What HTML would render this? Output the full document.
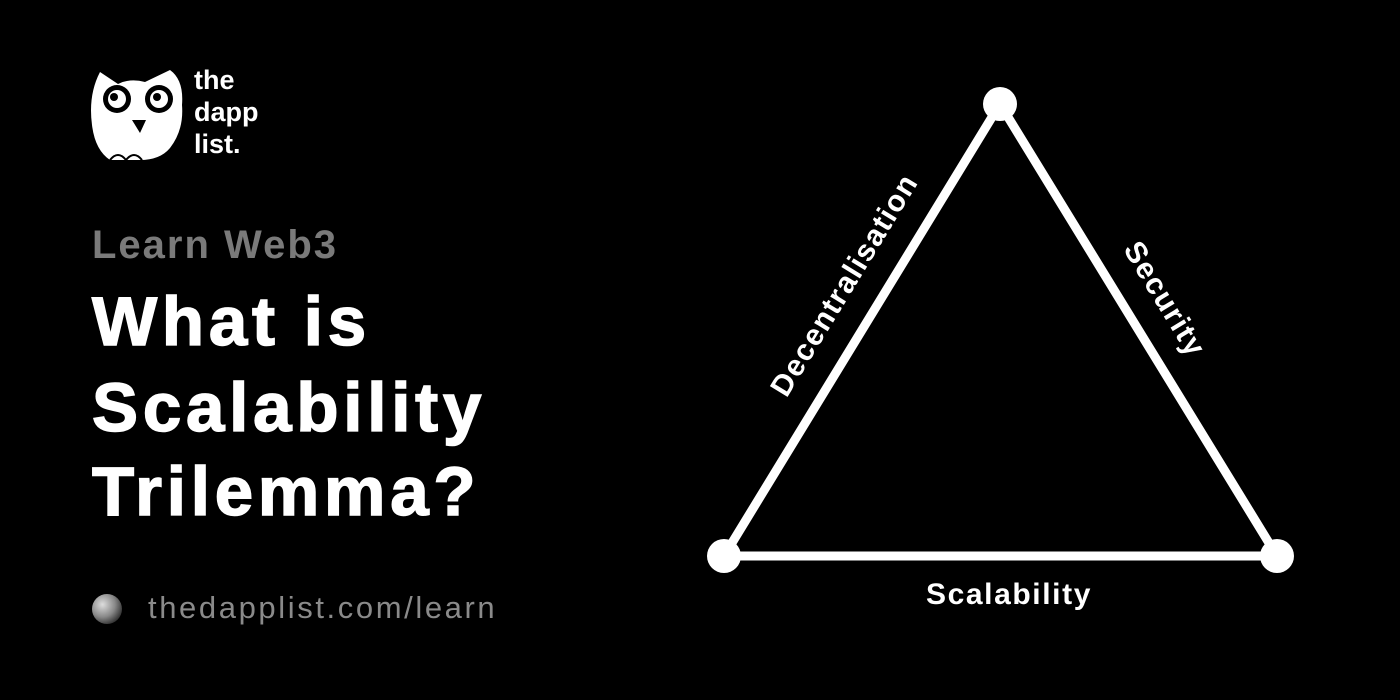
<!DOCTYPE html>
<html><head><meta charset="utf-8"><style>
html,body{margin:0;padding:0;background:#000;}
body{width:1400px;height:700px;position:relative;overflow:hidden;font-family:"Liberation Sans",sans-serif;}
.t{position:absolute;white-space:nowrap;}
.big{color:#fff;font-weight:bold;font-size:69px;letter-spacing:4.8px;left:92px;-webkit-text-stroke:1.5px #fff;}
</style></head><body>
<svg width="1400" height="700" style="position:absolute;left:0;top:0">
  <g fill="#fff">
    <path d="M100 72 L118 84 Q130 78 145 82 L170 70 Q184 80 182 105 Q184 130 170 148 Q160 160 140 160 L110 160 Q95 150 92 125 Q88 95 100 72Z"/>
  </g>
  <circle cx="117" cy="99" r="14" fill="#000"/><circle cx="117" cy="99" r="9" fill="#fff"/><circle cx="114" cy="97" r="4" fill="#000"/>
  <circle cx="159" cy="99" r="14" fill="#000"/><circle cx="159" cy="99" r="9" fill="#fff"/><circle cx="157" cy="97" r="4" fill="#000"/>
  <path d="M132 120 L146 120 L140 133Z" fill="#000"/>
  <path d="M110 160 Q118 150 126 160 Q134 150 142 160" stroke="#000" stroke-width="2" fill="none"/>
  <defs><radialGradient id="g" cx="0.35" cy="0.35" r="0.7"><stop offset="0" stop-color="#ddd"/><stop offset="0.6" stop-color="#888"/><stop offset="1" stop-color="#333"/></radialGradient></defs>
  <circle cx="107" cy="609" r="15" fill="url(#g)"/>
  <polygon points="1000,104 724,556 1277,556" fill="none" stroke="#fff" stroke-width="9" stroke-linejoin="round"/>
  <circle cx="1000" cy="104" r="17" fill="#fff"/>
  <circle cx="724" cy="556" r="17" fill="#fff"/>
  <circle cx="1277" cy="556" r="17" fill="#fff"/>
  <text x="0" y="0" transform="translate(846,286) rotate(-58.6)" fill="#fff" font-family="Liberation Sans,sans-serif" font-weight="bold" font-size="30" text-anchor="middle" dominant-baseline="middle" letter-spacing="1.3">Decentralisation</text>
  <text x="0" y="0" transform="translate(1163,300) rotate(58.6)" fill="#fff" font-family="Liberation Sans,sans-serif" font-weight="bold" font-size="30" text-anchor="middle" dominant-baseline="middle" letter-spacing="1.3">Security</text>
  <text x="1009" y="604" fill="#fff" font-family="Liberation Sans,sans-serif" font-weight="bold" font-size="30" text-anchor="middle" letter-spacing="1.6">Scalability</text>
</svg>
<div class="t" style="left:194px;top:64px;color:#fff;font-weight:bold;font-size:27px;line-height:32px;">the<br>dapp<br>list.</div>
<div class="t" style="left:92px;top:223px;color:#7a7a7a;font-weight:bold;font-size:40px;letter-spacing:2px;">Learn Web3</div>
<div class="t big" style="top:282px;">What is</div>
<div class="t big" style="top:368px;">Scalability</div>
<div class="t big" style="top:452px;">Trilemma?</div>
<div class="t" style="left:148px;top:590px;color:#8a8a8a;font-size:31px;letter-spacing:2.6px;">thedapplist.com/learn</div>
</body></html>
